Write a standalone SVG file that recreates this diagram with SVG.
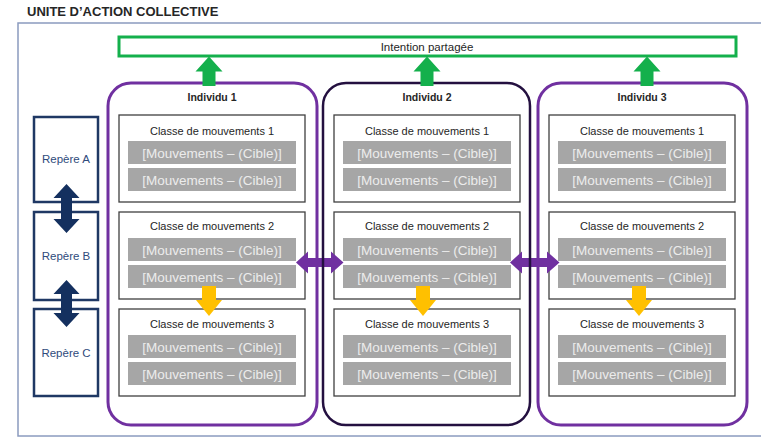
<svg xmlns="http://www.w3.org/2000/svg" width="761" height="438" viewBox="0 0 761 438">
<style>
text{font-family:"Liberation Sans",Arial,sans-serif;}
.title{font-size:13px;font-weight:bold;fill:#262626;}
.frame{fill:none;stroke:#8b9bbf;stroke-width:1.5;}
.intent{fill:#fff;stroke:#14b04c;stroke-width:3;}
.intentT{font-size:11.5px;fill:#262626;text-anchor:middle;}
.ind{fill:none;stroke:#7030a0;stroke-width:3;}
.ind2{fill:none;stroke:#241040;stroke-width:2.5;}
.indT{font-size:10.5px;font-weight:bold;fill:#262626;text-anchor:middle;}
.cls{fill:#fff;stroke:#404040;stroke-width:1.3;}
.clsT{font-size:11px;fill:#262626;text-anchor:middle;}
.bar{fill:#a6a6a6;}
.barT{font-size:13.5px;fill:#ececec;text-anchor:middle;}
.rep{fill:#fff;stroke:#1f3864;stroke-width:2.5;}
.repT{font-size:11.5px;fill:#2f4b7c;text-anchor:middle;}
.green{fill:#14b04c;}
.navy{fill:#14305f;}
.purple{fill:#7030a0;}
.yellow{fill:#ffc000;}
</style>
<defs>
<g id="cls">
<rect class="cls" x="0" y="0" width="186" height="87"/>
<rect class="bar" x="9" y="26" width="168" height="23"/>
<rect class="bar" x="9" y="53" width="168" height="23"/>
<text class="barT" x="93" y="42.5">[Mouvements – (Cible)]</text>
<text class="barT" x="93" y="69.5">[Mouvements – (Cible)]</text>
</g>
</defs>
<text class="title" x="27" y="16">UNITE D’ACTION COLLECTIVE</text>
<rect class="frame" x="18" y="23" width="760" height="413"/>

<g id="intention">
<rect class="intent" x="119" y="37" width="617" height="19"/>
<text class="intentT" x="427" y="50.5">Intention partagée</text>
</g>

<g id="repere-a"><rect class="rep" x="34" y="117" width="64" height="85"/><text class="repT" x="66" y="163">Repère A</text></g>
<g id="repere-b"><rect class="rep" x="34" y="212" width="64" height="88"/><text class="repT" x="66" y="260">Repère B</text></g>
<g id="repere-c"><rect class="rep" x="34" y="309" width="64" height="87"/><text class="repT" x="66" y="357">Repère C</text></g>

<g id="classes-1">
<g id="c1-1"><use href="#cls" x="119" y="115"/><text class="clsT" x="212" y="135">Classe de mouvements 1</text></g>
<g id="c1-2"><use href="#cls" x="119" y="212"/><text class="clsT" x="212" y="230">Classe de mouvements 2</text></g>
<g id="c1-3"><use href="#cls" x="119" y="309"/><text class="clsT" x="212" y="328">Classe de mouvements 3</text></g>
</g>
<g id="classes-2">
<g id="c2-1"><use href="#cls" x="334" y="115"/><text class="clsT" x="427" y="135">Classe de mouvements 1</text></g>
<g id="c2-2"><use href="#cls" x="334" y="212"/><text class="clsT" x="427" y="230">Classe de mouvements 2</text></g>
<g id="c2-3"><use href="#cls" x="334" y="309"/><text class="clsT" x="427" y="328">Classe de mouvements 3</text></g>
</g>
<g id="classes-3">
<g id="c3-1"><use href="#cls" x="549" y="115"/><text class="clsT" x="642" y="135">Classe de mouvements 1</text></g>
<g id="c3-2"><use href="#cls" x="549" y="212"/><text class="clsT" x="642" y="230">Classe de mouvements 2</text></g>
<g id="c3-3"><use href="#cls" x="549" y="309"/><text class="clsT" x="642" y="328">Classe de mouvements 3</text></g>
</g>

<g id="connectors">
<polygon class="navy" points="66.5,184 79.5,198 72,198 72,219 79.5,219 66.5,233 53.5,219 61,219 61,198 53.5,198"/>
<polygon class="navy" points="66.5,280 79.5,294 72,294 72,313 79.5,313 66.5,327 53.5,313 61,313 61,294 53.5,294"/>
<polygon class="purple" points="296,262.5 308,251.5 308,258 331,258 331,251.5 343.5,262.5 331,273.5 331,267 308,267 308,273.5"/>
<polygon class="purple" points="510,262.5 522,251.5 522,258 547,258 547,251.5 559.5,262.5 547,273.5 547,267 522,267 522,273.5"/>
<polygon class="yellow" points="202,286 216,286 216,300 222,300 209,316 196,300 202,300"/>
<polygon class="yellow" points="416,286 430,286 430,300 436,300 423,316 410,300 416,300"/>
<polygon class="yellow" points="632,286 646,286 646,300 652,300 639,316 626,300 632,300"/>
</g>

<g id="individu-1"><rect class="ind" x="108" y="83" width="209" height="342" rx="23"/><text class="indT" x="212" y="101">Individu 1</text></g>
<g id="individu-2"><rect class="ind2" x="323" y="83" width="207" height="342" rx="23"/><text class="indT" x="427" y="101">Individu 2</text></g>
<g id="individu-3"><rect class="ind" x="538" y="83" width="209" height="342" rx="23"/><text class="indT" x="642" y="101">Individu 3</text></g>

<g id="connectors-up">
<polygon class="green" points="209,56.5 222.5,71.5 215.5,71.5 215.5,86 202.5,86 202.5,71.5 195.5,71.5"/>
<polygon class="green" points="427,56.5 440.5,71.5 433.5,71.5 433.5,86 420.5,86 420.5,71.5 413.5,71.5"/>
<polygon class="green" points="647,56.5 660.5,71.5 653.5,71.5 653.5,86 640.5,86 640.5,71.5 633.5,71.5"/>
</g>
</svg>
